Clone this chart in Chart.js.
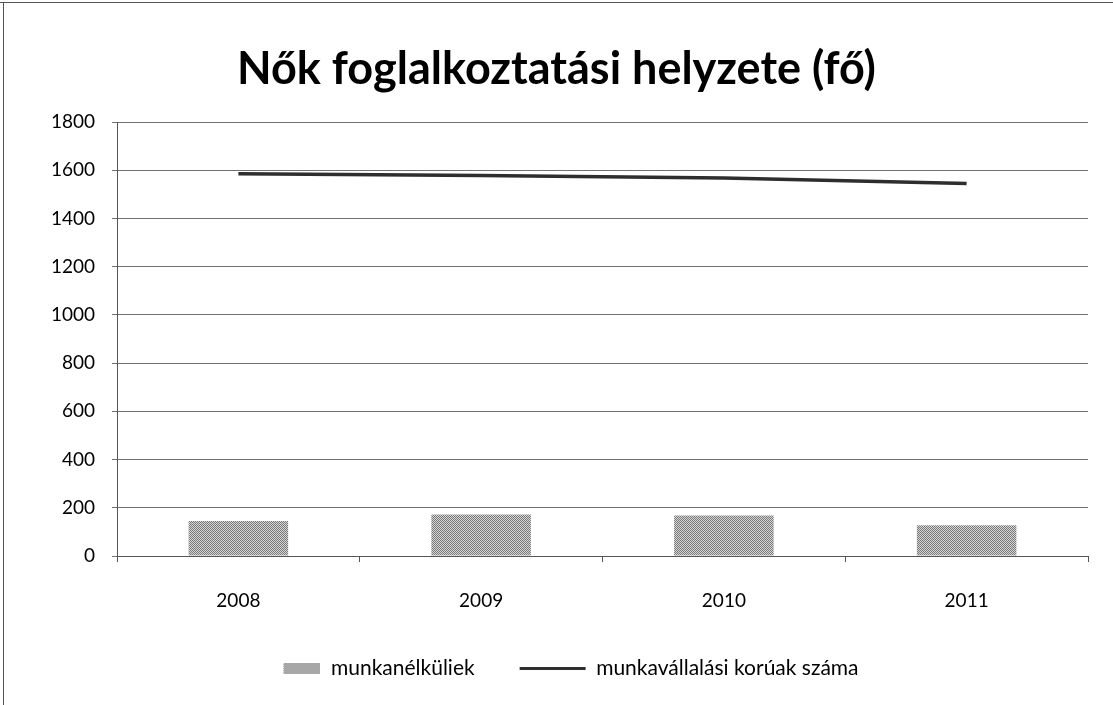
<!DOCTYPE html>
<html lang="hu">
<head>
<meta charset="UTF-8" />
<title>Nők foglalkoztatási helyzete</title>
<script src="https://cdn.jsdelivr.net/npm/chart.js"></script>
<style>
  body { margin: 0; background: #fff; }
  #wrap { position: relative; width: 1113px; height: 705px; }
  .edge { position: absolute; background: #555; }
</style>
</head>
<body>
<div id="wrap">
  <canvas id="myChart" width="1113" height="705"></canvas>
  <div class="edge" style="left:0;top:2px;width:1113px;height:1px"></div>
  <div class="edge" style="left:3px;top:2px;width:1px;height:703px"></div>
</div>
<script>
  // adatok
  const years = ["2008", "2009", "2010", "2011"];
  const unemployed = [145, 172, 168, 128];
  const workingAge = [1585, 1578, 1568, 1545];
  const yMin = 0;
  const yMax = 1800;
  const yStep = 200;

  const FONT = "Lato, 'Open Sans', sans-serif";

  // pontozott szürke kitöltés az oszlopokhoz
  function dotPattern() {
    const c = document.createElement("canvas");
    c.width = 4;
    c.height = 4;
    const g = c.getContext("2d");
    g.fillStyle = "#d4d4d4";
    g.fillRect(0, 0, 4, 4);
    g.fillStyle = "#7a7a7a";
    g.fillRect(0, 0, 1, 1);
    g.fillRect(2, 0, 1, 1);
    g.fillRect(1, 1, 1, 1);
    g.fillRect(3, 1, 1, 1);
    g.fillRect(0, 2, 1, 1);
    g.fillRect(2, 2, 1, 1);
    g.fillRect(3, 3, 1, 1);
    g.fillRect(1, 3, 1, 1);
    return c;
  }

  const ctx = document.getElementById("myChart").getContext("2d");
  const pat = ctx.createPattern(dotPattern(), "repeat");

  // legend minta az oszlop sorozathoz (jobbra igazítva a 66 px-es dobozban)
  const swatch = document.createElement("canvas");
  swatch.width = 66;
  swatch.height = 11;
  const sg = swatch.getContext("2d");
  sg.fillStyle = sg.createPattern(dotPattern(), "repeat");
  sg.fillRect(29, 0, 37, 11);

  new Chart(ctx, {
    type: "bar",
    data: {
      labels: years,
      datasets: [
        {
          type: "line",
          label: "munkavállalási korúak száma",
          data: workingAge,
          borderColor: "#2e2e2e",
          backgroundColor: "#2e2e2e",
          borderWidth: 3.5,
          pointRadius: 0,
          tension: 0,
          order: 0,
        },
        {
          label: "munkanélküliek",
          data: unemployed,
          backgroundColor: pat,
          borderWidth: 0,
          barPercentage: 0.82,
          categoryPercentage: 0.5,
          order: 1,
        },
      ],
    },
    options: {
      responsive: false,
      animation: false,
      layout: { padding: { left: 25, right: 25, top: 0, bottom: 16 } },
      plugins: {
        title: {
          display: true,
          text: "Nők foglalkoztatási helyzete (fő)",
          color: "#000",
          font: { family: FONT, size: 45, weight: "bold" },
          padding: { top: 42, bottom: 26 },
        },
        legend: {
          position: "bottom",
          reverse: true,
          labels: {
            usePointStyle: true,
            pointStyleWidth: 66,
            color: "#000",
            font: { family: FONT, size: 21 },
            padding: 45,
            generateLabels(chart) {
              const items = Chart.defaults.plugins.legend.labels.generateLabels(chart);
              items.forEach((it) => {
                if (it.datasetIndex === 1) {
                  it.pointStyle = swatch;
                } else {
                  it.pointStyle = "line";
                  it.lineWidth = 3;
                  it.strokeStyle = "#2e2e2e";
                }
              });
              return items;
            },
          },
        },
        tooltip: { enabled: false },
      },
      scales: {
        x: {
          afterFit(scale) {
            scale.height = 57;
          },
          grid: {
            offset: true,
            drawOnChartArea: false,
            color: "#555",
            tickLength: 6,
          },
          border: { color: "#555", width: 1 },
          ticks: {
            color: "#000",
            font: { family: FONT, size: 19 },
            padding: 27,
          },
        },
        y: {
          min: yMin,
          max: yMax,
          afterFit(scale) {
            scale.width = 92;
          },
          grid: {
            color: "#727272",
            tickLength: 5,
          },
          border: { color: "#555", width: 1 },
          ticks: {
            stepSize: yStep,
            color: "#000",
            font: { family: FONT, size: 19 },
            padding: 17,
            callback: (v) => String(v),
          },
        },
      },
    },
  });
</script>
</body>
</html>
